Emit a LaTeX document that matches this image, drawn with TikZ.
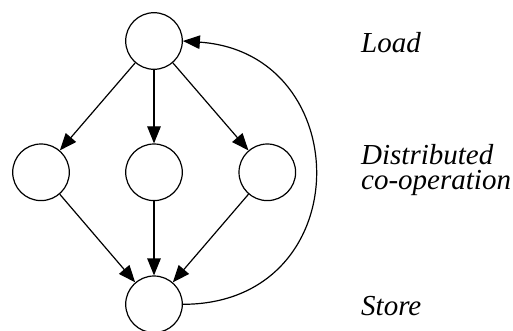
\documentclass[tikz,border=0pt]{standalone}
\usepackage{fontspec}
\setmainfont{Liberation Serif}
\usetikzlibrary{arrows.meta}
\begin{document}
\begin{tikzpicture}[x=1pt,y=-1pt,
  st/.style={circle,draw,line width=1.2pt,minimum size=56.6pt,inner sep=0pt},
  arr/.style={-{Triangle[length=17pt,width=13.5pt]},line width=1.2pt},
  lbl/.style={anchor=base west,inner sep=0pt,font=\fontsize{29}{25}\selectfont\itshape,align=left}]
\useasboundingbox (0,0) rectangle (513,331);
\node[st] (top) at (154,41) {};
\node[st] (l) at (41,172.3) {};
\node[st] (m) at (154,172.3) {};
\node[st] (r) at (267.3,172.3) {};
\node[st] (bot) at (154,304.3) {};
\draw[arr] (top) -- (l);
\draw[arr] (top) -- (m);
\draw[arr] (top) -- (r);
\draw[arr] (l) -- (bot);
\draw[arr] (m) -- (bot);
\draw[arr] (r) -- (bot);
\draw[arr] (bot.east) .. controls +(176,0) and +(175,12) .. (top.east);
\node[lbl] (load) at (361,52.3) {Load};
\node[lbl] (dist) at (361,189.7) {Distributed\\co-operation};
\node[lbl] (store) at (361,315) {Store};
\end{tikzpicture}
\end{document}
